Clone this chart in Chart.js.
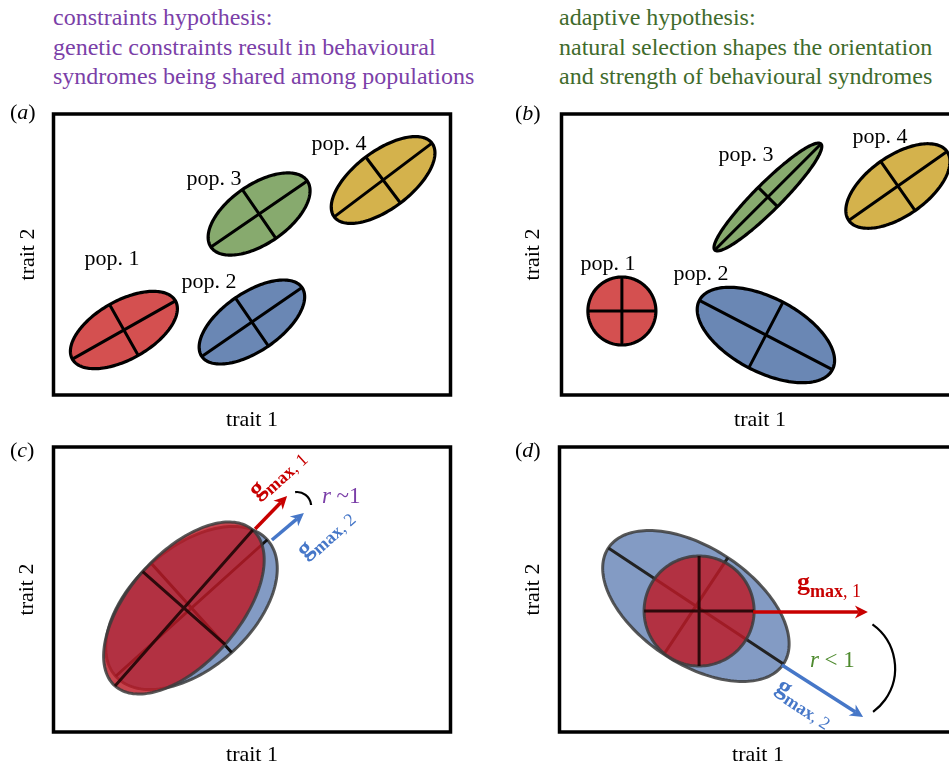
<!DOCTYPE html>
<html>
<head>
<meta charset="utf-8">
<title>Behavioural syndromes: constraints versus adaptive hypotheses</title>
<script src="https://cdn.jsdelivr.net/npm/chart.js@4.4.1/dist/chart.umd.min.js"></script>
<style>
  html, body { margin: 0; padding: 0; background: #fff; width: 949px; height: 769px; overflow: hidden; position: relative; }
  .hdr { position: absolute; font-family: "Liberation Serif", "Times New Roman", serif; font-size: 24px; line-height: 29.5px; white-space: nowrap; }
  .tag { position: absolute; font-family: "Liberation Serif", "Times New Roman", serif; font-size: 22px; line-height: 26px; color: #000; }
  canvas { position: absolute; }
</style>
</head>
<body>
<canvas id="pa" width="475" height="335" style="left:0px; top:100px;"></canvas>
<canvas id="pb" width="490" height="335" style="left:480px; top:100px;"></canvas>
<canvas id="pc" width="475" height="339" style="left:0px; top:430px;"></canvas>
<canvas id="pd" width="490" height="339" style="left:480px; top:430px;"></canvas>

<div class="hdr" style="left:53px; top:3px; color:#7b3fa8;">constraints hypothesis:<br>genetic constraints result in behavioural<br>syndromes being shared among populations</div>
<div class="hdr" style="left:559px; top:3px; color:#3f6b2c;">adaptive hypothesis:<br>natural selection shapes the orientation<br>and strength of behavioural syndromes</div>
<div class="tag" style="left:10px; top:98.6px;">(<i>a</i>)</div>
<div class="tag" style="left:515px; top:99.6px;">(<i>b</i>)</div>
<div class="tag" style="left:10px; top:436.6px;">(<i>c</i>)</div>
<div class="tag" style="left:515px; top:436.6px;">(<i>d</i>)</div>

<script>
const SERIF = '"Liberation Serif", "Times New Roman", serif';

// ---------- trait axes (arbitrary units) ----------
const trait1Range = [0, 99.25];
const trait2RangeTop = [0, 70.25];
const trait2RangeBottom = [0, 71.25];

// ---------- (a) constraints hypothesis: four populations, one shared syndrome ----------
const popNames = ['pop. 1', 'pop. 2', 'pop. 3', 'pop. 4'];
const aMean1 = [17.6, 49.6, 51.4, 82.4];     // population mean, trait 1
const aMean2 = [16.25, 18.25, 45.25, 53.75]; // population mean, trait 2
const aMajor = [14.8, 15.2, 14.6, 15.3];     // spread along g_max
const aMinor = [7.3, 7.3, 7.4, 7.2];         // spread across g_max
const aAngle = [29.5, 34.5, 34.5, 37];       // orientation of g_max (deg)

// ---------- (b) adaptive hypothesis: orientation and strength differ ----------
const bMean1 = [15.1, 51.1, 51.6, 84.1];
const bMean2 = [21, 15, 49.5, 52.25];
const bMajor = [8.5, 18.75, 18.75, 15];
const bMinor = [8.5, 9.25, 3.4, 7.5];
const bAngle = [0, -27.5, 45, 35];

// ---------- (c) two populations sharing g_max (r ~ 1): [pop. 1, pop. 2] ----------
const cMean1 = [32.6, 34.5];
const cMean2 = [31, 31];
const cMajor = [26, 25.5];
const cMinor = [13.75, 15];
const cAngle = [48.5, 42];
const cGmaxFrom1 = [50.4, 54.6];
const cGmaxFrom2 = [50.75, 48];
const cGmaxTo1 = [58.4, 62.6];
const cGmaxTo2 = [59, 54.75];

// ---------- (d) two populations with diverging g_max (r < 1): [pop. 1, pop. 2] ----------
const dMean1 = [34.9, 34.1];
const dMean2 = [30.25, 31.5];
const dMajor = [13.75, 26.25];
const dMinor = [13.75, 14.5];
const dAngle = [0, -33.5];
const dGmaxFrom1 = [48.4, 55.6];
const dGmaxFrom2 = [30, 16.75];
const dGmaxTo1 = [77.1, 75.9];
const dGmaxTo2 = [30, 3.75];

// ---------- styling ----------
const popFill = ['#d45050', '#6a87b4', '#87aa6e', '#d4b24c'];
const RED = '#c80000';
const BLUE = '#4677c8';
const overlapRed = 'rgba(188, 26, 38, 0.82)';
const overlapBlue = '#839bc4';
const rimGrey = 'rgba(60, 60, 60, 0.85)';

// label anchors (trait units), placed beside each ellipse
const aLabelAt = [[14.6, 32.5], [38.9, 26.75], [40.1, 52.5], [71.4, 61.25]];
const bLabelAt = [[11.6, 31.25], [34.9, 28.75], [46.1, 58.5], [79.6, 63.1]];

function pops(m1, m2, maj, min, ang, style) {
  return m1.map((_, i) => Object.assign({
    cx: m1[i], cy: m2[i], a: maj[i], b: min[i], angle: ang[i]
  }, style(i)));
}

function drawSyndrome(ctx, X, Y, p) {
  const th = p.angle * Math.PI / 180, c = Math.cos(th), s = Math.sin(th);
  const pt = (u, v) => [X(p.cx + u * c - v * s), Y(p.cy + u * s + v * c)];
  ctx.beginPath();
  const N = 180;
  for (let i = 0; i <= N; i++) {
    const t = 2 * Math.PI * i / N;
    const q = pt(p.a * Math.cos(t), p.b * Math.sin(t));
    if (i === 0) ctx.moveTo(q[0], q[1]); else ctx.lineTo(q[0], q[1]);
  }
  ctx.closePath();
  ctx.fillStyle = p.fill;
  ctx.fill();
  ctx.lineWidth = p.edgeWidth;
  ctx.strokeStyle = p.edge;
  ctx.stroke();
  ctx.beginPath();
  let q = pt(-p.a, 0); ctx.moveTo(q[0], q[1]);
  q = pt(p.a, 0); ctx.lineTo(q[0], q[1]);
  q = pt(0, -p.b); ctx.moveTo(q[0], q[1]);
  q = pt(0, p.b); ctx.lineTo(q[0], q[1]);
  ctx.lineWidth = p.axisWidth;
  ctx.strokeStyle = p.axis;
  ctx.lineCap = 'butt';
  ctx.stroke();
}

function drawArrow(ctx, x0, y0, x1, y1, color) {
  const dx = x1 - x0, dy = y1 - y0, len = Math.hypot(dx, dy);
  const ux = dx / len, uy = dy / len, nx = -uy, ny = ux;
  const L = 13, W = 6.5;
  ctx.beginPath();
  ctx.moveTo(x0, y0);
  ctx.lineTo(x1 - ux * L * 0.7, y1 - uy * L * 0.7);
  ctx.lineWidth = 3.5;
  ctx.strokeStyle = color;
  ctx.lineCap = 'butt';
  ctx.stroke();
  ctx.beginPath();
  ctx.moveTo(x1, y1);
  ctx.lineTo(x1 - ux * L + nx * W, y1 - uy * L + ny * W);
  ctx.lineTo(x1 - ux * L * 0.7, y1 - uy * L * 0.7);
  ctx.lineTo(x1 - ux * L - nx * W, y1 - uy * L - ny * W);
  ctx.closePath();
  ctx.fillStyle = color;
  ctx.fill();
}

function drawGmax(ctx, x, y, rotDeg, sub, color) {
  ctx.save();
  ctx.translate(x, y);
  ctx.rotate(rotDeg * Math.PI / 180);
  ctx.fillStyle = color;
  ctx.textAlign = 'left';
  ctx.textBaseline = 'alphabetic';
  ctx.font = `bold 26px ${SERIF}`;
  ctx.fillText('g', 0, 0);
  let w = ctx.measureText('g').width;
  ctx.font = `bold 18px ${SERIF}`;
  ctx.fillText('max', w, 6.5);
  w += ctx.measureText('max').width;
  ctx.font = `18px ${SERIF}`;
  ctx.fillText(', ' + sub, w, 6.5);
  ctx.restore();
}

function drawR(ctx, x, y, rest, color) {
  ctx.save();
  ctx.fillStyle = color;
  ctx.textAlign = 'left';
  ctx.textBaseline = 'alphabetic';
  ctx.font = `italic 23px ${SERIF}`;
  ctx.fillText('r', x, y);
  const w = ctx.measureText('r').width;
  ctx.font = `23px ${SERIF}`;
  ctx.fillText(rest, x + w, y);
  ctx.restore();
}

function syndromePlugin(spec) {
  return {
    id: 'syndromes',
    afterDatasetsDraw(chart) {
      const { ctx, chartArea: ca, scales: { x, y } } = chart;
      const X = v => x.getPixelForValue(v), Y = v => y.getPixelForValue(v);
      ctx.save();
      spec.pops.forEach(p => drawSyndrome(ctx, X, Y, p));
      (spec.labels || []).forEach(l => {
        ctx.font = `22px ${SERIF}`;
        ctx.fillStyle = '#000';
        ctx.textAlign = 'center';
        ctx.textBaseline = 'alphabetic';
        ctx.fillText(l.text, X(l.x), Y(l.y));
      });
      (spec.arrows || []).forEach(a => drawArrow(ctx, X(a.x0), Y(a.y0), X(a.x1), Y(a.y1), a.color));
      (spec.arcs || []).forEach(a => {
        const r = X(a.cx + a.r) - X(a.cx);
        ctx.beginPath();
        ctx.arc(X(a.cx), Y(a.cy), r, a.from * Math.PI / 180, a.to * Math.PI / 180);
        ctx.lineWidth = 2.2;
        ctx.strokeStyle = '#000';
        ctx.stroke();
      });
      (spec.gmax || []).forEach(g => drawGmax(ctx, X(g.x), Y(g.y), g.rot, g.sub, g.color));
      (spec.rtext || []).forEach(t => drawR(ctx, X(t.x), Y(t.y), t.rest, t.color));
      ctx.lineWidth = 3.5;
      ctx.strokeStyle = '#000';
      ctx.strokeRect(ca.left, ca.top, ca.right - ca.left, ca.bottom - ca.top);
      ctx.restore();
    }
  };
}

function makePanel(id, geo, yRange, spec) {
  const centres = spec.pops.map(p => ({ x: p.cx, y: p.cy }));
  return new Chart(document.getElementById(id), {
    type: 'scatter',
    data: { datasets: [{ data: centres, pointRadius: 0, showLine: false }] },
    options: {
      responsive: false,
      animation: false,
      events: [],
      layout: { padding: geo.padding },
      plugins: { legend: { display: false }, tooltip: { enabled: false }, title: { display: false } },
      scales: {
        x: {
          type: 'linear', min: trait1Range[0], max: trait1Range[1],
          ticks: { display: false }, grid: { display: false, drawTicks: false }, border: { display: false },
          title: { display: true, text: 'trait 1', color: '#000', font: { family: SERIF, size: 22 }, padding: { top: 0, bottom: geo.xPad } },
          afterFit: s => { s.height = geo.xSize; }
        },
        y: {
          type: 'linear', min: yRange[0], max: yRange[1],
          ticks: { display: false }, grid: { display: false, drawTicks: false }, border: { display: false },
          title: { display: true, text: 'trait 2', color: '#000', font: { family: SERIF, size: 22 }, padding: { top: geo.yPad, bottom: 0 } },
          afterFit: s => { s.width = geo.ySize; }
        }
      }
    },
    plugins: [syndromePlugin(spec)]
  });
}

const blackRim = i => ({ fill: popFill[i], edge: '#000', edgeWidth: 3.2, axis: '#000', axisWidth: 3 });

// (a)
makePanel('pa',
  { padding: { left: 10, top: 14, right: 24.5, bottom: 0 }, ySize: 43.5, xSize: 40, yPad: 4.8, xPad: 1.8 },
  trait2RangeTop,
  {
    pops: pops(aMean1, aMean2, aMajor, aMinor, aAngle, blackRim),
    labels: popNames.map((t, i) => ({ text: t, x: aLabelAt[i][0], y: aLabelAt[i][1] }))
  });

// (b)
makePanel('pb',
  { padding: { left: 35, top: 14, right: 11.5, bottom: 0 }, ySize: 46.5, xSize: 40, yPad: 4.8, xPad: 1.8 },
  trait2RangeTop,
  {
    pops: pops(bMean1, bMean2, bMajor, bMinor, bAngle, blackRim),
    labels: popNames.map((t, i) => ({ text: t, x: bLabelAt[i][0], y: bLabelAt[i][1] }))
  });

// (c): pop. 2 drawn first, pop. 1 laid over it
const cPops = pops(cMean1, cMean2, cMajor, cMinor, cAngle, i => i === 0
  ? { fill: overlapRed, edge: rimGrey, edgeWidth: 3, axis: 'rgba(30,5,5,0.9)', axisWidth: 3 }
  : { fill: overlapBlue, edge: rimGrey, edgeWidth: 3, axis: '#111', axisWidth: 3 });
makePanel('pc',
  { padding: { left: 10, top: 17, right: 24.5, bottom: 0 }, ySize: 43.5, xSize: 37, yPad: 3.8, xPad: 0.8 },
  trait2RangeBottom,
  {
    pops: [cPops[1], cPops[0]],
    arrows: [
      { x0: cGmaxFrom1[0], y0: cGmaxFrom2[0], x1: cGmaxTo1[0], y1: cGmaxTo2[0], color: RED },
      { x0: cGmaxFrom1[1], y0: cGmaxFrom2[1], x1: cGmaxTo1[1], y1: cGmaxTo2[1], color: BLUE }
    ],
    arcs: [{ cx: 60.9, cy: 56.5, r: 3.5, from: -98, to: -4 }],
    gmax: [
      { x: 50.9, y: 58.25, rot: -42, sub: '1', color: RED },
      { x: 62.9, y: 43.25, rot: -42, sub: '2', color: BLUE }
    ],
    rtext: [{ x: 67.1, y: 57.25, rest: ' ~1', color: '#7b3fa8' }]
  });

// (d): pop. 2 drawn first, pop. 1 laid over it
const dPops = pops(dMean1, dMean2, dMajor, dMinor, dAngle, i => i === 0
  ? { fill: overlapRed, edge: rimGrey, edgeWidth: 3, axis: 'rgba(30,5,5,0.9)', axisWidth: 3 }
  : { fill: overlapBlue, edge: rimGrey, edgeWidth: 3, axis: '#222', axisWidth: 3 });
makePanel('pd',
  { padding: { left: 35, top: 17, right: 13.5, bottom: 0 }, ySize: 44.5, xSize: 37, yPad: 4.8, xPad: 0.8 },
  trait2RangeBottom,
  {
    pops: [dPops[1], dPops[0]],
    arrows: [
      { x0: dGmaxFrom1[0], y0: dGmaxFrom2[0], x1: dGmaxTo1[0], y1: dGmaxTo2[0], color: RED },
      { x0: dGmaxFrom1[1], y0: dGmaxFrom2[1], x1: dGmaxTo1[1], y1: dGmaxTo2[1], color: BLUE }
    ],
    arcs: [{ cx: 70.4, cy: 15.9, r: 13.5, from: -54.5, to: 53.7 }],
    gmax: [
      { x: 59.4, y: 35.5, rot: 0, sub: '1', color: RED },
      { x: 53.9, y: 10.5, rot: 33, sub: '2', color: BLUE }
    ],
    rtext: [{ x: 62.6, y: 16.25, rest: ' < 1', color: '#4e8a2e' }]
  });
</script>
</body>
</html>
